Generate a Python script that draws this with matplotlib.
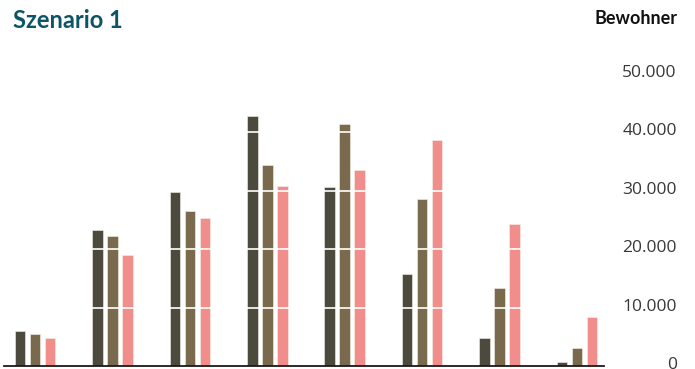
import matplotlib
matplotlib.use('Agg')
import matplotlib.pyplot as plt
import matplotlib.transforms as mtransforms
import numpy as np

plt.rcParams['font.family'] = ['Open Sans', 'DejaVu Sans']

# Daten (aus dem Bild geschätzt)
gruppen = np.arange(8)
reihe_1 = [6000, 23300, 29800, 42800, 30600, 15800, 4800, 800]
reihe_2 = [5500, 22200, 26500, 34400, 41400, 28600, 13300, 3200]
reihe_3 = [4800, 19100, 25300, 30800, 33500, 38700, 24300, 8400]
yticks = [0, 10000, 20000, 30000, 40000, 50000]
ytick_labels = ['0', '10.000', '20.000', '30.000', '40.000', '50.000']
farben = ['#4b4a3d', '#7a6a4d', '#f18e8c']

fig = plt.figure(figsize=(6.95, 3.69), dpi=100)
ax = fig.add_axes([0.006, 0.0073, 0.863, 0.7927])

w = 0.136
off = 0.194
for i, (vals, c) in enumerate(zip([reihe_1, reihe_2, reihe_3], farben)):
    ax.bar(gruppen + (i - 1) * off, vals, w, color=c, edgecolor='#f4f1ec',
           linewidth=0.4, zorder=2)

# weiße Gitterlinien über den Balken
for y in yticks[1:]:
    ax.axhline(y, color='white', linewidth=1.2, zorder=3)

ax.set_xlim(-0.4, 7.35)
ax.set_ylim(0, 50000)
ax.set_xticks([])
ax.set_yticks(yticks)
ax.set_yticklabels(ytick_labels)
ax.yaxis.tick_right()
ax.tick_params(axis='y', length=0, pad=52.5, labelsize=12.5, labelcolor='#383838')
shift = mtransforms.ScaledTranslation(0, 3 / 100, fig.dpi_scale_trans)
for lab in ax.get_yticklabels():
    lab.set_ha('right')
    lab.set_transform(lab.get_transform() + shift)
for s in ['top', 'right', 'left']:
    ax.spines[s].set_visible(False)
ax.spines['bottom'].set_color('#1a1a1a')
ax.spines['bottom'].set_linewidth(1.3)
ax.spines['bottom'].set_zorder(4)

fig.text(13 / 695, 1 - 20 / 369, 'Szenario 1', fontsize=17, fontweight='bold',
         color='#0d5466', ha='left', va='center', family=['Lato', 'DejaVu Sans'])
fig.text(677 / 695, 1 - 18 / 369, 'Bewohner', fontsize=13, fontweight='bold',
         color='#111111', ha='right', va='center', family=['Lato', 'DejaVu Sans'])

fig.savefig('out.png', dpi=100)
